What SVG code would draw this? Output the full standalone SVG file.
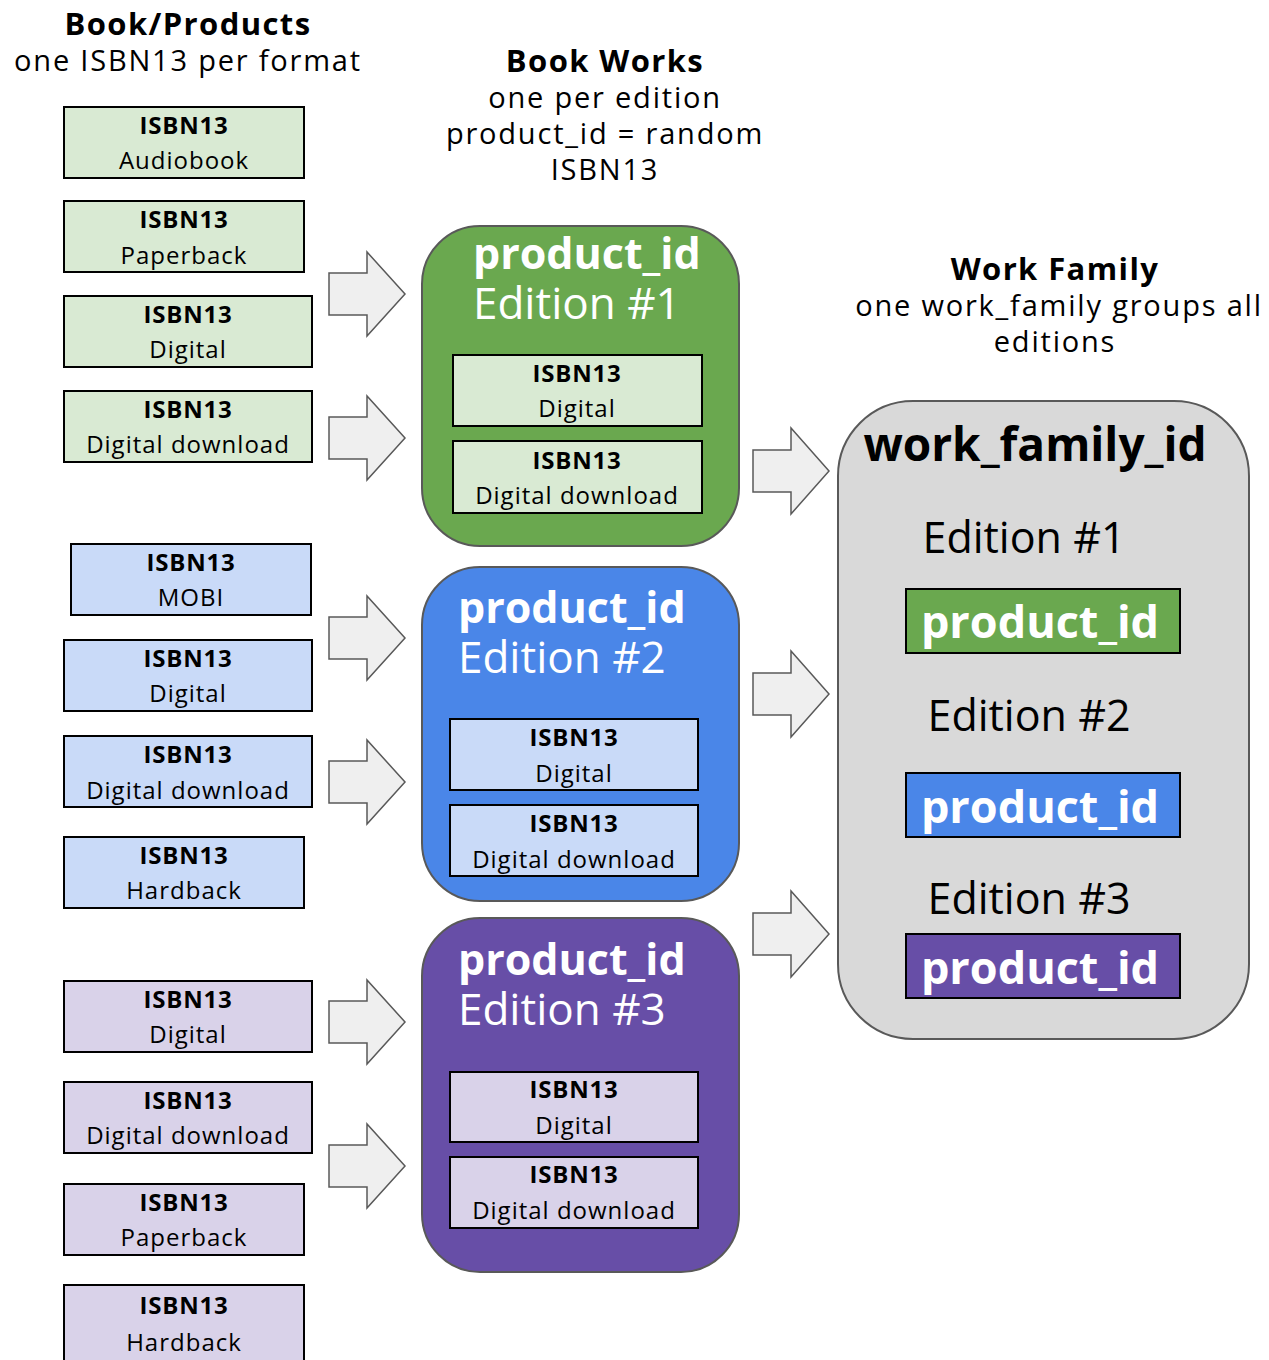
<svg xmlns="http://www.w3.org/2000/svg" width="1269" height="1360" viewBox="0 0 1269 1360">
<style>
text{font-family:"Open Sans","Noto Sans","Liberation Sans",sans-serif;}
.t{text-anchor:middle;fill:#000;}
.h{font-size:31px;font-weight:bold;letter-spacing:1.4px;}
.s{font-size:29px;letter-spacing:1.8px;}
.bx{stroke:#000;stroke-width:2;}
.g{fill:#d9ead3;}
.b{fill:#c9daf8;}
.p{fill:#d9d2e9;}
.k{font-size:24px;font-weight:bold;letter-spacing:0.8px;}
.f{font-size:24px;letter-spacing:1px;}
.arr{fill:#efefef;stroke:#595959;stroke-width:1.5;}
.cont{stroke:#595959;stroke-width:2;}
.wt{fill:#fff;}
.tt{font-size:43px;font-weight:bold;}
.te{font-size:44px;}
.wb{font-weight:bold;}
.e{font-size:43px;}
.pid{font-size:45px;font-weight:bold;fill:#fff;text-anchor:middle;}
</style>
<g id="headers">
<text class="t h" x="188" y="35">Book/Products</text>
<text class="t s" x="188" y="71">one ISBN13 per format</text>
<text class="t h" x="605" y="72">Book Works</text>
<text class="t s" x="605" y="108">one per edition</text>
<text class="t s" x="605" y="144">product_id = random</text>
<text class="t s" x="605" y="180">ISBN13</text>
<text class="t h" x="1055" y="280">Work Family</text>
<text class="t s" x="1059" y="316">one work_family groups all</text>
<text class="t s" x="1055" y="352">editions</text>
</g>
<g id="left-green">
<g id="lg1"><rect class="bx g" x="64" y="107" width="240" height="71"/><text class="t k" x="184" y="134">ISBN13</text><text class="t f" x="184" y="169">Audiobook</text></g>
<g id="lg2"><rect class="bx g" x="64" y="201" width="240" height="71"/><text class="t k" x="184" y="228">ISBN13</text><text class="t f" x="184" y="264">Paperback</text></g>
<g id="lg3"><rect class="bx g" x="64" y="296" width="248" height="71"/><text class="t k" x="188" y="323">ISBN13</text><text class="t f" x="188" y="358">Digital</text></g>
<g id="lg4"><rect class="bx g" x="64" y="391" width="248" height="71"/><text class="t k" x="188" y="418">ISBN13</text><text class="t f" x="188" y="453">Digital download</text></g>
</g>
<g id="left-blue">
<g id="lb1"><rect class="bx b" x="71" y="544" width="240" height="71"/><text class="t k" x="191" y="571">ISBN13</text><text class="t f" x="191" y="606">MOBI</text></g>
<g id="lb2"><rect class="bx b" x="64" y="640" width="248" height="71"/><text class="t k" x="188" y="667">ISBN13</text><text class="t f" x="188" y="702">Digital</text></g>
<g id="lb3"><rect class="bx b" x="64" y="736" width="248" height="71"/><text class="t k" x="188" y="763">ISBN13</text><text class="t f" x="188" y="799">Digital download</text></g>
<g id="lb4"><rect class="bx b" x="64" y="837" width="240" height="71"/><text class="t k" x="184" y="864">ISBN13</text><text class="t f" x="184" y="899">Hardback</text></g>
</g>
<g id="left-purple">
<g id="lp1"><rect class="bx p" x="64" y="981" width="248" height="71"/><text class="t k" x="188" y="1008">ISBN13</text><text class="t f" x="188" y="1043">Digital</text></g>
<g id="lp2"><rect class="bx p" x="64" y="1082" width="248" height="71"/><text class="t k" x="188" y="1109">ISBN13</text><text class="t f" x="188" y="1144">Digital download</text></g>
<g id="lp3"><rect class="bx p" x="64" y="1184" width="240" height="71"/><text class="t k" x="184" y="1211">ISBN13</text><text class="t f" x="184" y="1246">Paperback</text></g>
<g id="lp4"><rect class="bx p" x="64" y="1285" width="240" height="90"/><text class="t k" x="184" y="1314">ISBN13</text><text class="t f" x="184" y="1351">Hardback</text></g>
</g>
<g id="connectors">
<path class="arr" d="M329,273H367V252L405,294L367,336V315H329Z"/>
<path class="arr" d="M329,417H367V396L405,438L367,480V459H329Z"/>
<path class="arr" d="M329,617H367V596L405,638L367,680V659H329Z"/>
<path class="arr" d="M329,761H367V740L405,782L367,824V803H329Z"/>
<path class="arr" d="M329,1001H367V980L405,1022L367,1064V1043H329Z"/>
<path class="arr" d="M329,1145H367V1124L405,1166L367,1208V1187H329Z"/>
<path class="arr" d="M753,450H791V428L829,471L791,514V492H753Z"/>
<path class="arr" d="M753,673H791V651L829,694L791,737V715H753Z"/>
<path class="arr" d="M753,913H791V891L829,934L791,977V955H753Z"/>
</g>
<g id="edition1">
<rect class="cont" x="422" y="226" width="317" height="320" rx="58" fill="#6aa84f"/>
<text class="wt tt" x="473" y="269">product_id</text>
<text class="wt te" x="473" y="319">Edition #1</text>
<rect class="bx g" x="453" y="355" width="249" height="71"/><text class="t k" x="577" y="382">ISBN13</text><text class="t f" x="577" y="417">Digital</text>
<rect class="bx g" x="453" y="441" width="249" height="72"/><text class="t k" x="577" y="469">ISBN13</text><text class="t f" x="577" y="504">Digital download</text>
</g>
<g id="edition2">
<rect class="cont" x="422" y="567" width="317" height="334" rx="58" fill="#4a86e8"/>
<text class="wt tt" x="458" y="623">product_id</text>
<text class="wt te" x="458" y="673">Edition #2</text>
<rect class="bx b" x="450" y="719" width="248" height="71"/><text class="t k" x="574" y="746">ISBN13</text><text class="t f" x="574" y="782">Digital</text>
<rect class="bx b" x="450" y="805" width="248" height="71"/><text class="t k" x="574" y="832">ISBN13</text><text class="t f" x="574" y="868">Digital download</text>
</g>
<g id="edition3">
<rect class="cont" x="422" y="918" width="317" height="354" rx="58" fill="#674ea7"/>
<text class="wt tt" x="458" y="975">product_id</text>
<text class="wt te" x="458" y="1025">Edition #3</text>
<rect class="bx p" x="450" y="1072" width="248" height="70"/><text class="t k" x="574" y="1098">ISBN13</text><text class="t f" x="574" y="1134">Digital</text>
<rect class="bx p" x="450" y="1157" width="248" height="71"/><text class="t k" x="574" y="1183">ISBN13</text><text class="t f" x="574" y="1219">Digital download</text>
</g>
<g id="work-family">
<rect class="cont" x="838" y="401" width="411" height="638" rx="75" fill="#d9d9d9"/>
<text class="t wb" x="1035" y="461" style="font-size:46px">work_family_id</text>
<text class="t e" x="1024" y="553">Edition #1</text>
<rect class="bx" x="906" y="589" width="274" height="64" fill="#6aa84f"/>
<text class="pid" x="1040" y="638">product_id</text>
<text class="t e" x="1029" y="731">Edition #2</text>
<rect class="bx" x="906" y="773" width="274" height="64" fill="#4a86e8"/>
<text class="pid" x="1040" y="823">product_id</text>
<text class="t e" x="1029" y="914">Edition #3</text>
<rect class="bx" x="906" y="934" width="274" height="64" fill="#674ea7"/>
<text class="pid" x="1040" y="984">product_id</text>
</g>
</svg>
